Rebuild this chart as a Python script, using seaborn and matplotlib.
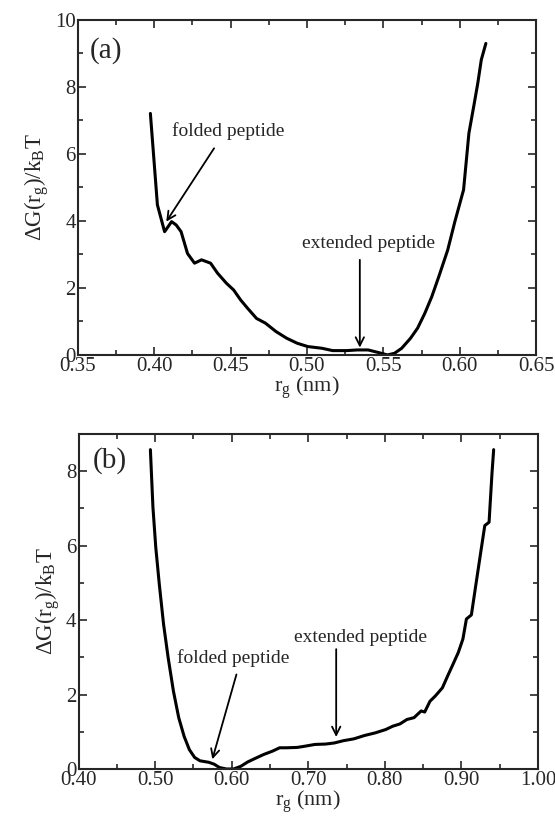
import numpy as np
import pandas as pd
import matplotlib as mpl
mpl.use("Agg")
import matplotlib.pyplot as plt
from matplotlib.ticker import MultipleLocator, FormatStrFormatter
import seaborn as sns

# panel (a): free energy vs radius of gyration
rg_a = [0.3975, 0.4021, 0.4068, 0.4114, 0.4144, 0.4176, 0.4218, 0.4264, 0.4310,
        0.4369, 0.4415, 0.4473, 0.4520, 0.4566, 0.4612, 0.4670, 0.4728, 0.4797,
        0.4867, 0.4936, 0.5006, 0.5098, 0.5168, 0.5260, 0.5330, 0.5400, 0.5470,
        0.5527, 0.5573, 0.5620, 0.5678, 0.5724, 0.5771, 0.5817, 0.5863, 0.5921,
        0.5968, 0.6025, 0.6060, 0.6095, 0.6118, 0.6141, 0.6171]
dg_a = [7.21, 4.48, 3.68, 3.98, 3.88, 3.68, 3.03, 2.74, 2.84,
        2.74, 2.44, 2.14, 1.94, 1.64, 1.39, 1.09, 0.95, 0.70,
        0.50, 0.35, 0.25, 0.20, 0.13, 0.13, 0.15, 0.15, 0.07,
        0.00, 0.05, 0.20, 0.50, 0.80, 1.24, 1.74, 2.34, 3.13,
        3.98, 4.93, 6.62, 7.51, 8.11, 8.81, 9.30]

# panel (b)
rg_b = [0.4938, 0.4971, 0.5008, 0.5054, 0.5110, 0.5170, 0.5239, 0.5308, 0.5378,
        0.5447, 0.5516, 0.5586, 0.5701, 0.5770, 0.5840, 0.5932, 0.6025, 0.6117,
        0.6210, 0.6302, 0.6418, 0.6533, 0.6626, 0.6718, 0.6857, 0.6949, 0.7088,
        0.7227, 0.7342, 0.7458, 0.7596, 0.7735, 0.7874, 0.8012, 0.8104, 0.8197,
        0.8289, 0.8382, 0.8475, 0.8521, 0.8590, 0.8659, 0.8752, 0.8821, 0.8890,
        0.8960, 0.9020, 0.9066, 0.9131, 0.9191, 0.9250, 0.9306, 0.9362, 0.9400,
        0.9422]
dg_b = [8.58, 7.04, 5.96, 4.97, 3.89, 2.99, 2.09, 1.38, 0.88,
        0.52, 0.31, 0.22, 0.18, 0.13, 0.04, 0.00, 0.00, 0.07,
        0.19, 0.28, 0.39, 0.48, 0.57, 0.57, 0.58, 0.61, 0.66,
        0.67, 0.70, 0.76, 0.81, 0.90, 0.97, 1.06, 1.15, 1.21,
        1.33, 1.38, 1.56, 1.53, 1.82, 1.96, 2.18, 2.50, 2.81,
        3.13, 3.49, 4.03, 4.14, 4.97, 5.78, 6.54, 6.63, 7.94,
        8.58]

panel_labels = ["(a)", "(b)"]
note_folded = "folded peptide"
note_extended = "extended peptide"

sns.set_style("ticks")
plt.rcParams["font.family"] = ["Liberation Serif", "DejaVu Serif"]
plt.rcParams["mathtext.fontset"] = "custom"
plt.rcParams["mathtext.rm"] = "Liberation Serif"
plt.rcParams["mathtext.it"] = "Liberation Serif:italic"
plt.rcParams["xtick.direction"] = "in"
plt.rcParams["ytick.direction"] = "in"

fig = plt.figure(figsize=(5.55, 8.16), dpi=100)
ax_a = fig.add_axes([0.1402, 0.565, 0.8258, 0.4105])
ax_b = fig.add_axes([0.1416, 0.0576, 0.8276, 0.4105])

df_a = pd.DataFrame({"rg": rg_a, "dg": dg_a})
df_b = pd.DataFrame({"rg": rg_b, "dg": dg_b})
sns.lineplot(data=df_a, x="rg", y="dg", ax=ax_a, color="black", lw=2.2,
             sort=False, estimator=None)
sns.lineplot(data=df_b, x="rg", y="dg", ax=ax_b, color="black", lw=2.2,
             sort=False, estimator=None)

ylab = r"$\Delta$G(r$_\mathrm{g}$)/k$_\mathrm{B}$T"
xlab = r"r$_\mathrm{g}$ (nm)"
arrow = dict(arrowstyle="->", color="black", lw=1.3, shrinkA=0, shrinkB=0,
             mutation_scale=15)

def style_axes(ax, xlim, ylim, xmaj, xmin, ymaj, ymin, xfmt):
    ax.set_xlim(*xlim)
    ax.set_ylim(*ylim)
    ax.xaxis.set_major_locator(MultipleLocator(xmaj))
    ax.xaxis.set_minor_locator(MultipleLocator(xmin))
    ax.yaxis.set_major_locator(MultipleLocator(ymaj))
    ax.yaxis.set_minor_locator(MultipleLocator(ymin))
    ax.xaxis.set_major_formatter(FormatStrFormatter(xfmt))
    ax.tick_params(which="both", top=True, right=True, width=1.2,
                   labelsize=15, pad=1.5)
    ax.tick_params(which="major", length=6)
    ax.tick_params(which="minor", length=3.5)
    for s in ax.spines.values():
        s.set_linewidth(1.5)
    ax.set_xlabel(xlab, fontsize=16, labelpad=-1)
    ax.set_ylabel(ylab, fontsize=16.5, labelpad=3)

style_axes(ax_a, (0.35, 0.65), (0, 10), 0.05, 0.025, 2, 1, "%.2f")
style_axes(ax_b, (0.40, 1.00), (0, 9), 0.1, 0.05, 2, 1, "%.2f")

ax_a.text(0.3685, 9.1, panel_labels[0], fontsize=21, ha="center", va="center")
ax_a.text(0.4485, 6.67, note_folded, fontsize=14, ha="center", va="center")
ax_a.annotate("", xy=(0.4079, 3.98), xytext=(0.4392, 6.17), arrowprops=arrow)
ax_a.text(0.54, 3.33, note_extended, fontsize=14, ha="center", va="center")
ax_a.annotate("", xy=(0.5346, 0.22), xytext=(0.5346, 2.84), arrowprops=arrow)

ax_b.text(0.4407, 8.30, panel_labels[1], fontsize=21, ha="center", va="center")
ax_b.text(0.6025, 2.99, note_folded, fontsize=14, ha="center", va="center")
ax_b.annotate("", xy=(0.5747, 0.26), xytext=(0.6062, 2.54), arrowprops=arrow)
ax_b.text(0.7689, 3.53, note_extended, fontsize=14, ha="center", va="center")
ax_b.annotate("", xy=(0.7365, 0.86), xytext=(0.7365, 3.22), arrowprops=arrow)

fig.savefig("out.png", dpi=100)
